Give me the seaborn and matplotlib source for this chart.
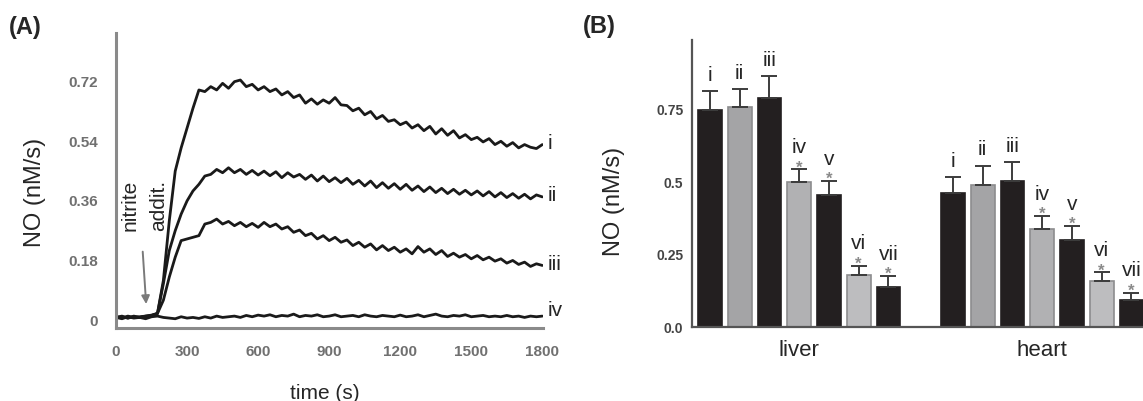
import numpy as np
import pandas as pd
import matplotlib
matplotlib.use("Agg")
import matplotlib.pyplot as plt
import seaborn as sns

# --- data: panel A, NO release traces ---
time_s = [0, 25, 50, 75, 100, 125, 150, 175, 200, 225, 250, 275, 300, 325, 350, 375,
          400, 425, 450, 475, 500, 525, 550, 575, 600, 625, 650, 675, 700, 725, 750,
          775, 800, 825, 850, 875, 900, 925, 950, 975, 1000, 1025, 1050, 1075, 1100,
          1125, 1150, 1175, 1200, 1225, 1250, 1275, 1300, 1325, 1350, 1375, 1400,
          1425, 1450, 1475, 1500, 1525, 1550, 1575, 1600, 1625, 1650, 1675, 1700,
          1725, 1750, 1775, 1800]

trace_i = [0.008, 0.012, 0.006, 0.010, 0.008, 0.012, 0.015, 0.02, 0.12, 0.30, 0.45, 0.52,
           0.58, 0.64,
           0.695, 0.69, 0.705, 0.695, 0.715, 0.70, 0.72, 0.725, 0.705, 0.712, 0.695, 0.705,
           0.69, 0.698, 0.68, 0.69, 0.672, 0.68, 0.655, 0.668, 0.652, 0.665, 0.655, 0.672,
           0.65, 0.648, 0.632, 0.64, 0.62, 0.63, 0.608, 0.618, 0.60, 0.605, 0.59, 0.598,
           0.58, 0.59, 0.572, 0.585, 0.562, 0.578, 0.558, 0.572, 0.55, 0.56, 0.545, 0.552,
           0.538, 0.548, 0.53, 0.54, 0.525, 0.536, 0.52, 0.53, 0.522, 0.518, 0.53]

trace_ii = [0.010, 0.006, 0.012, 0.008, 0.010, 0.012, 0.014, 0.02, 0.11, 0.21, 0.27, 0.32,
            0.36, 0.39,
            0.41, 0.435, 0.44, 0.455, 0.445, 0.46, 0.445, 0.455, 0.44, 0.452, 0.438, 0.45,
            0.436, 0.448, 0.43, 0.445, 0.432, 0.44, 0.425, 0.438, 0.42, 0.435, 0.418, 0.43,
            0.415, 0.428, 0.41, 0.422, 0.405, 0.42, 0.40, 0.415, 0.398, 0.412, 0.395, 0.41,
            0.392, 0.405, 0.388, 0.402, 0.385, 0.398, 0.382, 0.395, 0.38, 0.392, 0.378, 0.39,
            0.375, 0.388, 0.372, 0.385, 0.37, 0.382, 0.368, 0.38, 0.366, 0.378, 0.372]

trace_iii = [0.008, 0.010, 0.006, 0.012, 0.008, 0.010, 0.013, 0.02, 0.06, 0.13, 0.19, 0.24,
             0.245, 0.25,
             0.255, 0.29, 0.295, 0.305, 0.29, 0.298, 0.285, 0.295, 0.282, 0.292, 0.28, 0.295,
             0.282, 0.29, 0.275, 0.282, 0.265, 0.272, 0.255, 0.262, 0.245, 0.255, 0.24, 0.25,
             0.235, 0.242, 0.225, 0.235, 0.22, 0.23, 0.212, 0.225, 0.21, 0.22, 0.205, 0.215,
             0.20, 0.222, 0.205, 0.215, 0.198, 0.21, 0.192, 0.202, 0.19, 0.198, 0.185, 0.195,
             0.182, 0.19, 0.178, 0.185, 0.172, 0.18, 0.168, 0.175, 0.162, 0.17, 0.165]

trace_iv = [0.008, 0.004, 0.010, 0.006, 0.008, 0.004, 0.010, 0.012, 0.008, 0.006, 0.004, 0.010,
            0.006, 0.008, 0.005, 0.010, 0.006, 0.012, 0.008, 0.010, 0.012, 0.008, 0.014, 0.010,
            0.015, 0.012, 0.016, 0.010, 0.014, 0.012, 0.018, 0.010, 0.014, 0.012, 0.016, 0.010,
            0.012, 0.016, 0.010, 0.012, 0.014, 0.010, 0.016, 0.012, 0.010, 0.014, 0.012, 0.010,
            0.015, 0.010, 0.012, 0.016, 0.010, 0.014, 0.018, 0.012, 0.010, 0.014, 0.012, 0.016,
            0.010, 0.012, 0.014, 0.010, 0.012, 0.010, 0.014, 0.010, 0.012, 0.008, 0.012, 0.010, 0.012]

trace_names = ["i", "ii", "iii", "iv"]
trace_ends = [0.533, 0.375, 0.168, 0.028]  # label heights at right end
a_yticks = [0, 0.18, 0.36, 0.54, 0.72]
a_xticks = [0, 300, 600, 900, 1200, 1500, 1800]

# --- data: panel B, bar chart ---
tissues = ["liver", "heart"]
conditions = ["i", "ii", "iii", "iv", "v", "vi", "vii"]
liver_vals = [0.75, 0.76, 0.79, 0.50, 0.455, 0.18, 0.14]
liver_tops = [0.815, 0.82, 0.865, 0.545, 0.505, 0.213, 0.178]
heart_vals = [0.465, 0.49, 0.505, 0.34, 0.30, 0.16, 0.095]
heart_tops = [0.518, 0.558, 0.57, 0.385, 0.35, 0.19, 0.12]
starred = [False, False, False, True, True, True, True]
bar_colors = ["#231f20", "#a4a4a6", "#231f20", "#b1b1b3", "#231f20", "#bdbdbf", "#231f20"]
b_yticks = [0, 0.25, 0.5, 0.75]
b_yticklabels = ["0.0", "0.25", "0.5", "0.75"]

# --- style ---
sns.set_style("white")
plt.rcParams["font.family"] = ["Liberation Sans", "DejaVu Sans"]

fig = plt.figure(figsize=(11.43, 4.01), dpi=100)
axA = fig.add_axes([0.1015, 0.182, 0.3736, 0.7357])
axB = fig.add_axes([0.6052, 0.1833, 0.3948, 0.7167])

# ---------------- panel A ----------------
all_traces = [trace_i, trace_ii, trace_iii, trace_iv]
dfA = pd.concat([pd.DataFrame({"time": time_s, "NO": tr, "trace": nm})
                 for tr, nm in zip(all_traces, trace_names)], ignore_index=True)
sns.lineplot(data=dfA, x="time", y="NO", hue="trace", palette=["#1a1a1a"] * 4,
             estimator=None, linewidth=2.0, legend=False, ax=axA)

axA.set_xlim(0, 1803)
axA.set_ylim(-0.024, 0.867)
axA.set_xticks(a_xticks)
axA.set_xticklabels([str(t) for t in a_xticks])
axA.set_yticks(a_yticks)
axA.set_yticklabels(["0", "0.18", "0.36", "0.54", "0.72"])
for sp in ["top", "right"]:
    axA.spines[sp].set_visible(False)
for sp in ["left", "bottom"]:
    axA.spines[sp].set_color("#8a8a8a")
    axA.spines[sp].set_linewidth(2.2)
axA.tick_params(axis="y", length=4, width=1.2, color="#8a8a8a", pad=9,
                labelsize=11, labelcolor="#707070")
axA.tick_params(axis="x", length=4, width=1.2, color="#8a8a8a", pad=8,
                labelsize=11, labelcolor="#707070")
for lab in axA.get_xticklabels() + axA.get_yticklabels():
    lab.set_fontweight("bold")

axA.set_ylabel("NO (nM/s)", fontsize=17)
axA.yaxis.set_label_coords(-0.165, 0.46)
axA.set_xlabel("time (s)", fontsize=15)
axA.xaxis.set_label_coords(0.49, -0.19)

for nm, yv in zip(trace_names, trace_ends):
    axA.text(1822, yv, nm, fontsize=15, va="center", ha="left", clip_on=False)

axA.annotate("", xy=(128, 0.04), xytext=(112, 0.215),
             arrowprops=dict(arrowstyle="-|>", color="#7a7a7a", lw=1.4,
                             mutation_scale=12))
axA.text(58, 0.27, "nitrite", rotation=90, ha="center", va="bottom", fontsize=15)
axA.text(182, 0.27, "addit.", rotation=90, ha="center", va="bottom", fontsize=15)

fig.text(0.008, 0.932, "(A)", fontsize=17, fontweight="bold", va="center")

# ---------------- panel B ----------------
dfB = pd.DataFrame({
    "tissue": np.repeat(tissues, len(conditions)),
    "cond": conditions * len(tissues),
    "NO": liver_vals + heart_vals,
})
sns.barplot(data=dfB, x="tissue", y="NO", hue="cond", hue_order=conditions,
            palette=bar_colors, width=0.857, gap=0.2, errorbar=None,
            legend=False, saturation=1, ax=axB)

bars = sorted(axB.patches, key=lambda p: p.get_x())
vals = liver_vals + heart_vals
tops = liver_tops + heart_tops
for k, p in enumerate(bars):
    col = bar_colors[k % len(conditions)]
    p.set_edgecolor("#8c8c8e" if col != "#231f20" else "#231f20")
    p.set_linewidth(1.2)

xs = [p.get_x() + p.get_width() / 2 for p in bars]
errs = [t - v for t, v in zip(tops, vals)]
axB.errorbar(xs, vals, yerr=[[0] * len(vals), errs], fmt="none", ecolor="#3c3c3c",
             elinewidth=1.4, capsize=6, capthick=1.4, zorder=1)

for k, (x, top) in enumerate(zip(xs, tops)):
    ci = k % len(conditions)
    if starred[ci]:
        axB.text(x, top + 0.004, "*", ha="center", va="center", fontsize=12,
                 color="#8a8a8a", fontweight="bold")
        axB.text(x, top + 0.042, conditions[ci], ha="center", va="bottom", fontsize=15)
    else:
        axB.text(x, top + 0.022, conditions[ci], ha="center", va="bottom", fontsize=15)

axB.set_xlim(-0.442, 1.415)
axB.set_ylim(0, 0.99)
axB.set_yticks(b_yticks)
axB.set_yticklabels(b_yticklabels)
for sp in ["top", "right"]:
    axB.spines[sp].set_visible(False)
for sp in ["left", "bottom"]:
    axB.spines[sp].set_color("#555555")
    axB.spines[sp].set_linewidth(1.6)
axB.tick_params(axis="y", length=4, width=1.2, color="#555555", pad=2,
                labelsize=10, labelcolor="#444444")
for lab in axB.get_yticklabels():
    lab.set_fontweight("bold")
axB.tick_params(axis="x", length=0, pad=9, labelsize=16)
axB.set_xlabel("")
axB.set_ylabel("NO (nM/s)", fontsize=17)
axB.yaxis.set_label_coords(-0.148, 0.44)

fig.text(0.51, 0.935, "(B)", fontsize=17, fontweight="bold", va="center")

fig.savefig("out.png", dpi=100)
